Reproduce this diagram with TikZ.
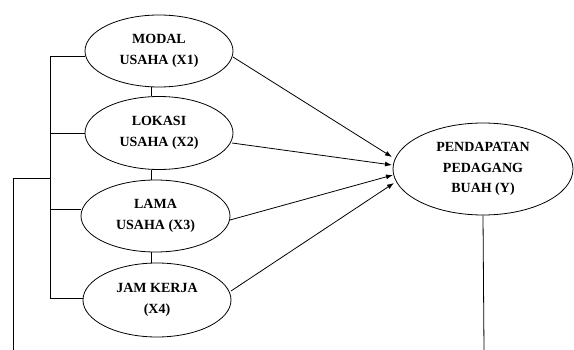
\documentclass[tikz,border=0pt]{standalone}
\usepackage{fontspec}
\setmainfont{Liberation Serif}
\usetikzlibrary{shapes.geometric,arrows.meta}
\begin{document}
\begin{tikzpicture}[x=1pt,y=-1pt,
  var/.style={draw,ellipse,line width=0.8pt,inner sep=0pt,align=center,
    font=\fontsize{14}{20.5}\selectfont\bfseries},
  link/.style={line width=0.8pt},
  arr/.style={line width=0.8pt,-{Latex[length=7pt,width=5pt]}}]
\useasboundingbox (0,0) rectangle (574,350);
\node[var,minimum width=148pt,minimum height=72pt] (x1) at (159,51) {MODAL\\USAHA (X1)};
\node[var,minimum width=148pt,minimum height=73pt] (x2) at (159,133) {LOKASI\\USAHA (X2)};
\node[var,minimum width=149pt,minimum height=72pt] (x3) at (155.5,216) {LAMA\\USAHA (X3)};
\node[var,minimum width=148pt,minimum height=74pt] (x4) at (157,300) {JAM KERJA\\(X4)};
\node[var,minimum width=180pt,minimum height=92pt] (y) at (483,169) {PENDAPATAN\\PEDAGANG\\BUAH (Y)};
% bracket coordinates
\coordinate (b1) at (50,56);
\coordinate (b2) at (50,133);
\coordinate (b3) at (50,209);
\coordinate (b4) at (50,298);
\coordinate (bm) at (50,178);
\coordinate (o1) at (13,178);
\coordinate (o2) at (13,350);
\coordinate (yb) at (484,350);
\coordinate (c) at (151,0);
% arrow ends
\coordinate (t1) at (392,157);
\coordinate (t2) at (392,165);
\coordinate (t3) at (393,175);
\coordinate (t4) at (394,183);
\coordinate (s1) at (233,57);
\coordinate (s2) at (232,143);
\coordinate (s3) at (230,220);
\coordinate (s4) at (231,291);
% left bracket
\draw[link] (b1) -- (b4);
\draw[link] (b1) -- (x1.west |- b1);
\draw[link] (b2) -- (x2.west |- b2);
\draw[link] (b3) -- (x3.west |- b3);
\draw[link] (b4) -- (x4.west |- b4);
% vertical links between ellipses
\draw[link] (x1.south -| c) -- (x2.north -| c);
\draw[link] (x2.south -| c) -- (x3.north -| c);
\draw[link] (x3.south -| c) -- (x4.north -| c);
% outer lines
\draw[link] (bm) -- (o1) -- (o2);
\draw[link] (y.south) -- (yb);
% arrows
\draw[arr] (s1) -- (t1);
\draw[arr] (s2) -- (t2);
\draw[arr] (s3) -- (t3);
\draw[arr] (s4) -- (t4);
\end{tikzpicture}
\end{document}
